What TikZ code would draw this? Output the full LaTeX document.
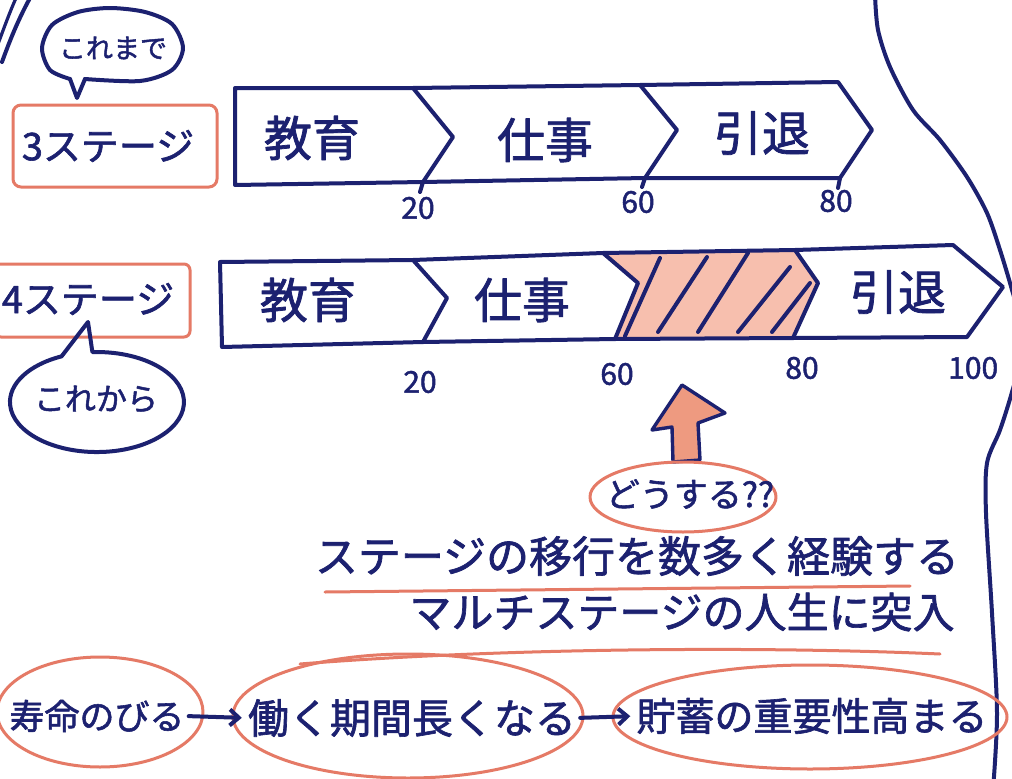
\documentclass[tikz,border=0pt]{standalone}
\usepackage{fontspec}
\setmainfont{Noto Sans CJK JP}[FakeBold=1.6]
\usetikzlibrary{arrows.meta,shapes.geometric}
\definecolor{ink}{HTML}{1C2170}
\definecolor{pen}{HTML}{E57A66}
\definecolor{crayon}{HTML}{F7BFAE}
\definecolor{crayondark}{HTML}{EE9A80}
\begin{document}
\begin{tikzpicture}[x=1pt,y=-1pt,line cap=round,line join=round,
  inkline/.style={draw=ink,line width=4pt},
  penline/.style={draw=pen,line width=3pt},
  txt/.style={text=ink,inner sep=0pt,font=\fontsize{#1}{#1}\selectfont},
  num/.style={text=ink,inner sep=0pt,font=\fontsize{30}{30}\selectfont}]
\useasboundingbox (0,0) rectangle (1012,779);
\fill[white] (0,0) rectangle (1012,779);
\clip (0,0) rectangle (1012,779);

% frame strokes
\draw[inkline] plot[smooth] coordinates {(875,-5)(878,30)(890,67)(913,110)(940,140)(967,177)(987,213)(1000,250)(1012,290)(1025,340)(1012,392)(1000,430)(987,463)(986,513)(992,613)(997,713)(993,790)};
\draw[inkline,line width=3.2pt] (-2,44) .. controls (4,28) and (9,14) .. (16,-2);
\draw[inkline] (2,62) .. controls (10,40) and (18,20) .. (30,-2);

% ---------- row 1 : 3 stages ----------
\draw[inkline] (235,88) -- (413,88) -- (453,137) -- (423,182) -- (235,185) -- cycle;
\draw[inkline] (413,88) -- (640,85) -- (677,130) -- (645,178) -- (423,182);
\draw[inkline] (640,85) -- (838,82) -- (872,130) -- (840,178) -- (645,178);
\draw[inkline] (423,182) -- (420,192);
\draw[inkline] (645,178) -- (642,187);
\draw[inkline] (840,178) -- (838,188);
\node[txt=48] (edu1) at (312,138) {教育};
\node[txt=48] (work1) at (545,140) {仕事};
\node[txt=48] (ret1) at (762,133) {引退};
\node[num] (n20a) at (418,208) {20};
\node[num] (n60a) at (638,202) {60};
\node[num] (n80a) at (836,201) {80};

% ---------- row 2 : 4 stages ----------
\fill[crayon] (603,252) -- (795,250) -- (818,283) -- (793,338) -- (615,339) -- (638,283) -- cycle;
\draw[inkline] (220,262) -- (413,260) -- (447,298) -- (423,342) -- (222,347) -- cycle;
\draw[inkline] (413,260) -- (603,253) -- (638,283) -- (615,339) -- (423,342);
\draw[inkline] (603,253) -- (795,250) -- (818,283) -- (793,338) -- (615,339);
\draw[inkline] (795,250) -- (953,245) -- (1003,287) -- (967,337) -- (793,338);
\draw[inkline] (625,336) -- (660,258);
\draw[inkline] (658,332) -- (707,257);
\draw[inkline] (698,332) -- (748,253);
\draw[inkline] (738,332) -- (790,267);
\draw[inkline] (772,332) -- (810,283);
\node[txt=48] (edu2) at (308,300) {教育};
\node[txt=48] (work2) at (522,300) {仕事};
\node[txt=48] (ret2) at (898,292) {引退};
\node[num] (n20b) at (420,382) {20};
\node[num] (n60b) at (617,374) {60};
\node[num] (n80b) at (802,368) {80};
\node[num,anchor=west] (n100b) at (948,368) {100};

% ---------- left labels ----------
\draw[penline,rounded corners=8pt] (13,105) rectangle (217,187);
\node[txt=38] (three) at (108,146) {3ステージ};
\draw[inkline] plot[smooth] coordinates {(85,79)(140,81)(172,70)(183,48)(172,24)(145,12)(110,8)(78,12)(52,25)(42,48)(50,70)(70,79)};
\draw[inkline] (70,79) -- (77,98) -- (85,79);
\node[txt=27] (sofar) at (113,48) {これまで};

\draw[penline,rounded corners=6pt] (-5,264) rectangle (190,337);
\node[txt=38] (four) at (88,299) {4ステージ};
\draw[inkline] (92.4,352.1) arc[start angle=267,end angle=606,x radius=87,y radius=50] -- (88,322) -- cycle;
\node[txt=31] (future) at (96,399) {これから};

% ---------- up arrow & question ----------
\draw[inkline,fill=crayondark,line width=3.4pt] (682,385) -- (725,413) -- (698,423) -- (700,460) -- (673,462) -- (672,427) -- (652,430) -- cycle;
\draw[penline] (683,497) ellipse[x radius=93,y radius=35];
\node[txt=34] (how) at (690,494) {どうする??};

\node[txt=43] (line1) at (637,556) {ステージの移行を数多く経験する};
\draw[penline] (325,592) -- (910,586);
\node[txt=42] (line2) at (682,612) {マルチステージの人生に突入};

% ---------- bottom chain ----------
\draw[penline] (100,712) ellipse[x radius=103,y radius=55];
\draw[penline] (408,716) ellipse[x radius=175,y radius=62];
\draw[penline] (810,717) ellipse[x radius=197,y radius=52];
\draw[penline] (300,664) .. controls (500,648) and (760,646) .. (940,654);
\node[txt=35] (life) at (97,716) {寿命のびる};
\node[txt=41] (longer) at (412,718) {働く期間長くなる};
\node[txt=39] (saving) at (812,716) {貯蓄の重要性高まる};
\draw[inkline,-{Straight Barb[length=9pt,width=16pt]},shorten <=4pt,shorten >=6pt] (life.east) -- (longer.west);
\draw[inkline,-{Straight Barb[length=9pt,width=16pt]},shorten <=4pt,shorten >=6pt] (longer.east) -- (saving.west);
\end{tikzpicture}
\end{document}
